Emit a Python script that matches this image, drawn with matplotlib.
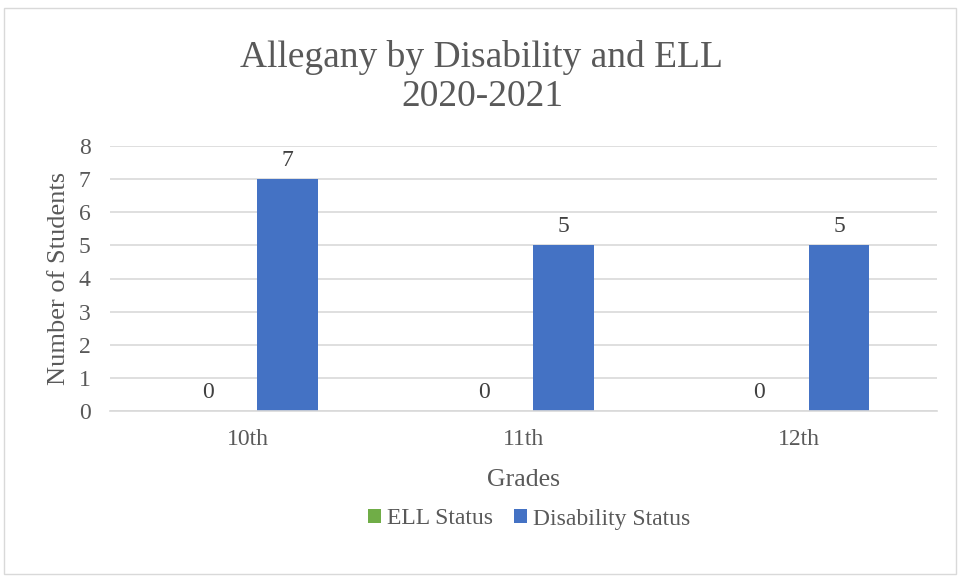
import matplotlib
matplotlib.use("Agg")
import matplotlib.pyplot as plt
import numpy as np
from matplotlib.patches import Rectangle

categories = ["10th", "11th", "12th"]
ell_status = [0, 0, 0]
disability_status = [7, 5, 5]
series_names = ["ELL Status", "Disability Status"]
yticks = [0, 1, 2, 3, 4, 5, 6, 7, 8]

plt.rcParams['font.family'] = ['Liberation Serif', 'DejaVu Serif']
txt = '#595959'

fig = plt.figure(figsize=(9.64, 5.81), dpi=100)
fig.patches.append(Rectangle((0.004, 0.012), 0.988, 0.975, transform=fig.transFigure,
                             fill=False, edgecolor='#D9D9D9', linewidth=1.0))
ax = fig.add_axes([110/964, 1-411/581, (937-110)/964, (411-146)/581])

x = np.arange(len(categories))
w = 0.22
off = 0.145
b1 = ax.bar(x - off, ell_status, w, color='#70AD47', label=series_names[0])
b2 = ax.bar(x + off, disability_status, w, color='#4472C4', label=series_names[1])

for bars, vals in ((b1, ell_status), (b2, disability_status)):
    for r, v in zip(bars, vals):
        ax.text(r.get_x() + r.get_width()/2, v + 0.25, str(v), ha='center', va='bottom',
                fontsize=17, color='#404040')

ax.set_xlim(-0.5, len(categories) - 0.5)
ax.set_ylim(0, 8)
ax.set_yticks(yticks)
ax.set_xticks(x)
ax.set_xticklabels(categories)
ax.grid(axis='y', color='#D9D9D9', linewidth=1.2)
ax.set_axisbelow(True)
for s in ['top', 'right', 'left']:
    ax.spines[s].set_visible(False)
ax.spines['bottom'].set_color('#D9D9D9')
ax.spines['bottom'].set_linewidth(1.2)
ax.tick_params(axis='y', length=0, labelsize=17, labelcolor=txt, pad=14)
ax.tick_params(axis='x', length=0, labelsize=17, labelcolor=txt, pad=13)
ax.set_xlabel('Grades', fontsize=18.5, color=txt, labelpad=14)
ax.set_ylabel('Number of Students', fontsize=19, color=txt, labelpad=6)

fig.text(0.5, 1-77/581, 'Allegany by Disability and ELL\n2020-2021', ha='center', va='center',
         fontsize=27, color=txt, linespacing=1.2)

leg = fig.legend(handles=[b1, b2], loc='center', bbox_to_anchor=(529/964, 1-519/581), ncol=2,
                 frameon=False, fontsize=17, handlelength=0.55, handleheight=0.55,
                 handletextpad=0.25, columnspacing=0.9)
for t in leg.get_texts():
    t.set_color(txt)

fig.savefig('out.png', dpi=100)
